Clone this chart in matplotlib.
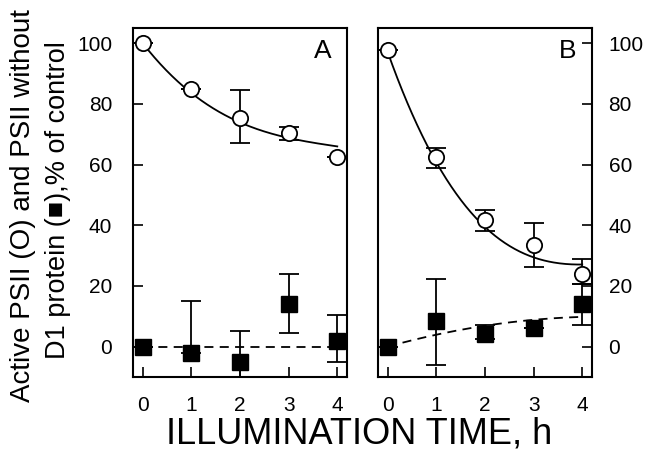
import numpy as np
import matplotlib.pyplot as plt

plt.rcParams['font.family'] = ['Liberation Sans', 'DejaVu Sans']

hours = [0, 1, 2, 3, 4]
yticks = [0, 20, 40, 60, 80, 100]

# panel A: active PSII (open circles) and PSII without D1 (filled squares)
a_psii = [100, 85, 75.5, 70.5, 62.5]
a_psii_lo = [0, 0, 8.5, 2.5, 0]
a_psii_hi = [0, 0, 9, 2, 0]
a_d1 = [0, -2, -5, 14, 2]
a_d1_lo = [0, 0, 6, 9.5, 7]
a_d1_hi = [0, 17, 10, 10, 8.5]
a_psii_curve = [100, 83.5, 74, 68.7, 66]
a_d1_curve = [0, 0, 0, 0, 0]

# panel B
b_psii = [97.7, 62.4, 41.8, 33.6, 23.8]
b_psii_lo = [0, 3.6, 3.6, 7.5, 3.3]
b_psii_hi = [0, 3.2, 3.2, 7.1, 5.2]
b_d1 = [0, 8.3, 4.3, 6.3, 14.2]
b_d1_lo = [0, 14.3, 1.8, 0, 7]
b_d1_hi = [0, 14.1, 2.7, 0, 6.6]
b_psii_curve = [97, 61, 39, 29.7, 27]
b_d1_curve = [0, 4, 6.8, 8.9, 9.8]


def draw_panel(ax, psii, psii_lo, psii_hi, d1, d1_lo, d1_hi, psii_curve, d1_curve, letter):
    xs = np.linspace(0, 4, 200)
    ax.plot(xs, np.polyval(np.polyfit(hours, psii_curve, 3), xs), color='black', lw=1.3, zorder=2)
    ax.plot(xs, np.polyval(np.polyfit(hours, d1_curve, 3), xs), color='black', lw=1.3,
            ls=(0, (5, 3.5)), zorder=2)
    ax.errorbar(hours, psii, yerr=[psii_lo, psii_hi], fmt='o', ms=11, mfc='white', mec='black',
                mew=1.3, ecolor='black', elinewidth=1.3, capsize=7, capthick=1.3, zorder=3)
    ax.errorbar(hours, d1, yerr=[d1_lo, d1_hi], fmt='s', ms=11, mfc='black', mec='black',
                ecolor='black', elinewidth=1.3, capsize=7, capthick=1.3, zorder=3)
    ax.set_xlim(-0.2, 4.2)
    ax.set_ylim(-10, 105)
    ax.set_xticks(hours)
    ax.set_yticks(yticks)
    for s in ax.spines.values():
        s.set_linewidth(1.5)
    ax.tick_params(direction='in', length=7, width=1.2, labelsize=15)
    ax.tick_params(axis='x', pad=14)
    ax.text(0.885, 0.935, letter, transform=ax.transAxes, ha='center', va='center', fontsize=19)


fig = plt.figure(figsize=(6.51, 4.5), dpi=100)
ax_a = fig.add_axes([0.2043, 0.1622, 0.3287, 0.7756])
ax_b = fig.add_axes([0.5806, 0.1622, 0.3287, 0.7756])

draw_panel(ax_a, a_psii, a_psii_lo, a_psii_hi, a_d1, a_d1_lo, a_d1_hi, a_psii_curve, a_d1_curve, 'A')
draw_panel(ax_b, b_psii, b_psii_lo, b_psii_hi, b_d1, b_d1_lo, b_d1_hi, b_psii_curve, b_d1_curve, 'B')

ax_a.tick_params(axis='y', left=True, right=False, labelleft=True, labelright=False, pad=15)
ax_b.tick_params(axis='y', left=False, right=True, labelleft=False, labelright=True, pad=12)

fig.text(23 / 651, 1 - 206 / 450, 'Active PSII (O) and PSII without', rotation=90,
         ha='center', va='center', fontsize=20)
fig.text(58 / 651, 1 - 200 / 450, 'D1 protein (\u25a0),% of control', rotation=90,
         ha='center', va='center', fontsize=19.5)
fig.text(359 / 651, 1 - 443 / 450, 'ILLUMINATION TIME, h', ha='center', va='baseline', fontsize=26)

fig.savefig('out.png', dpi=100)
